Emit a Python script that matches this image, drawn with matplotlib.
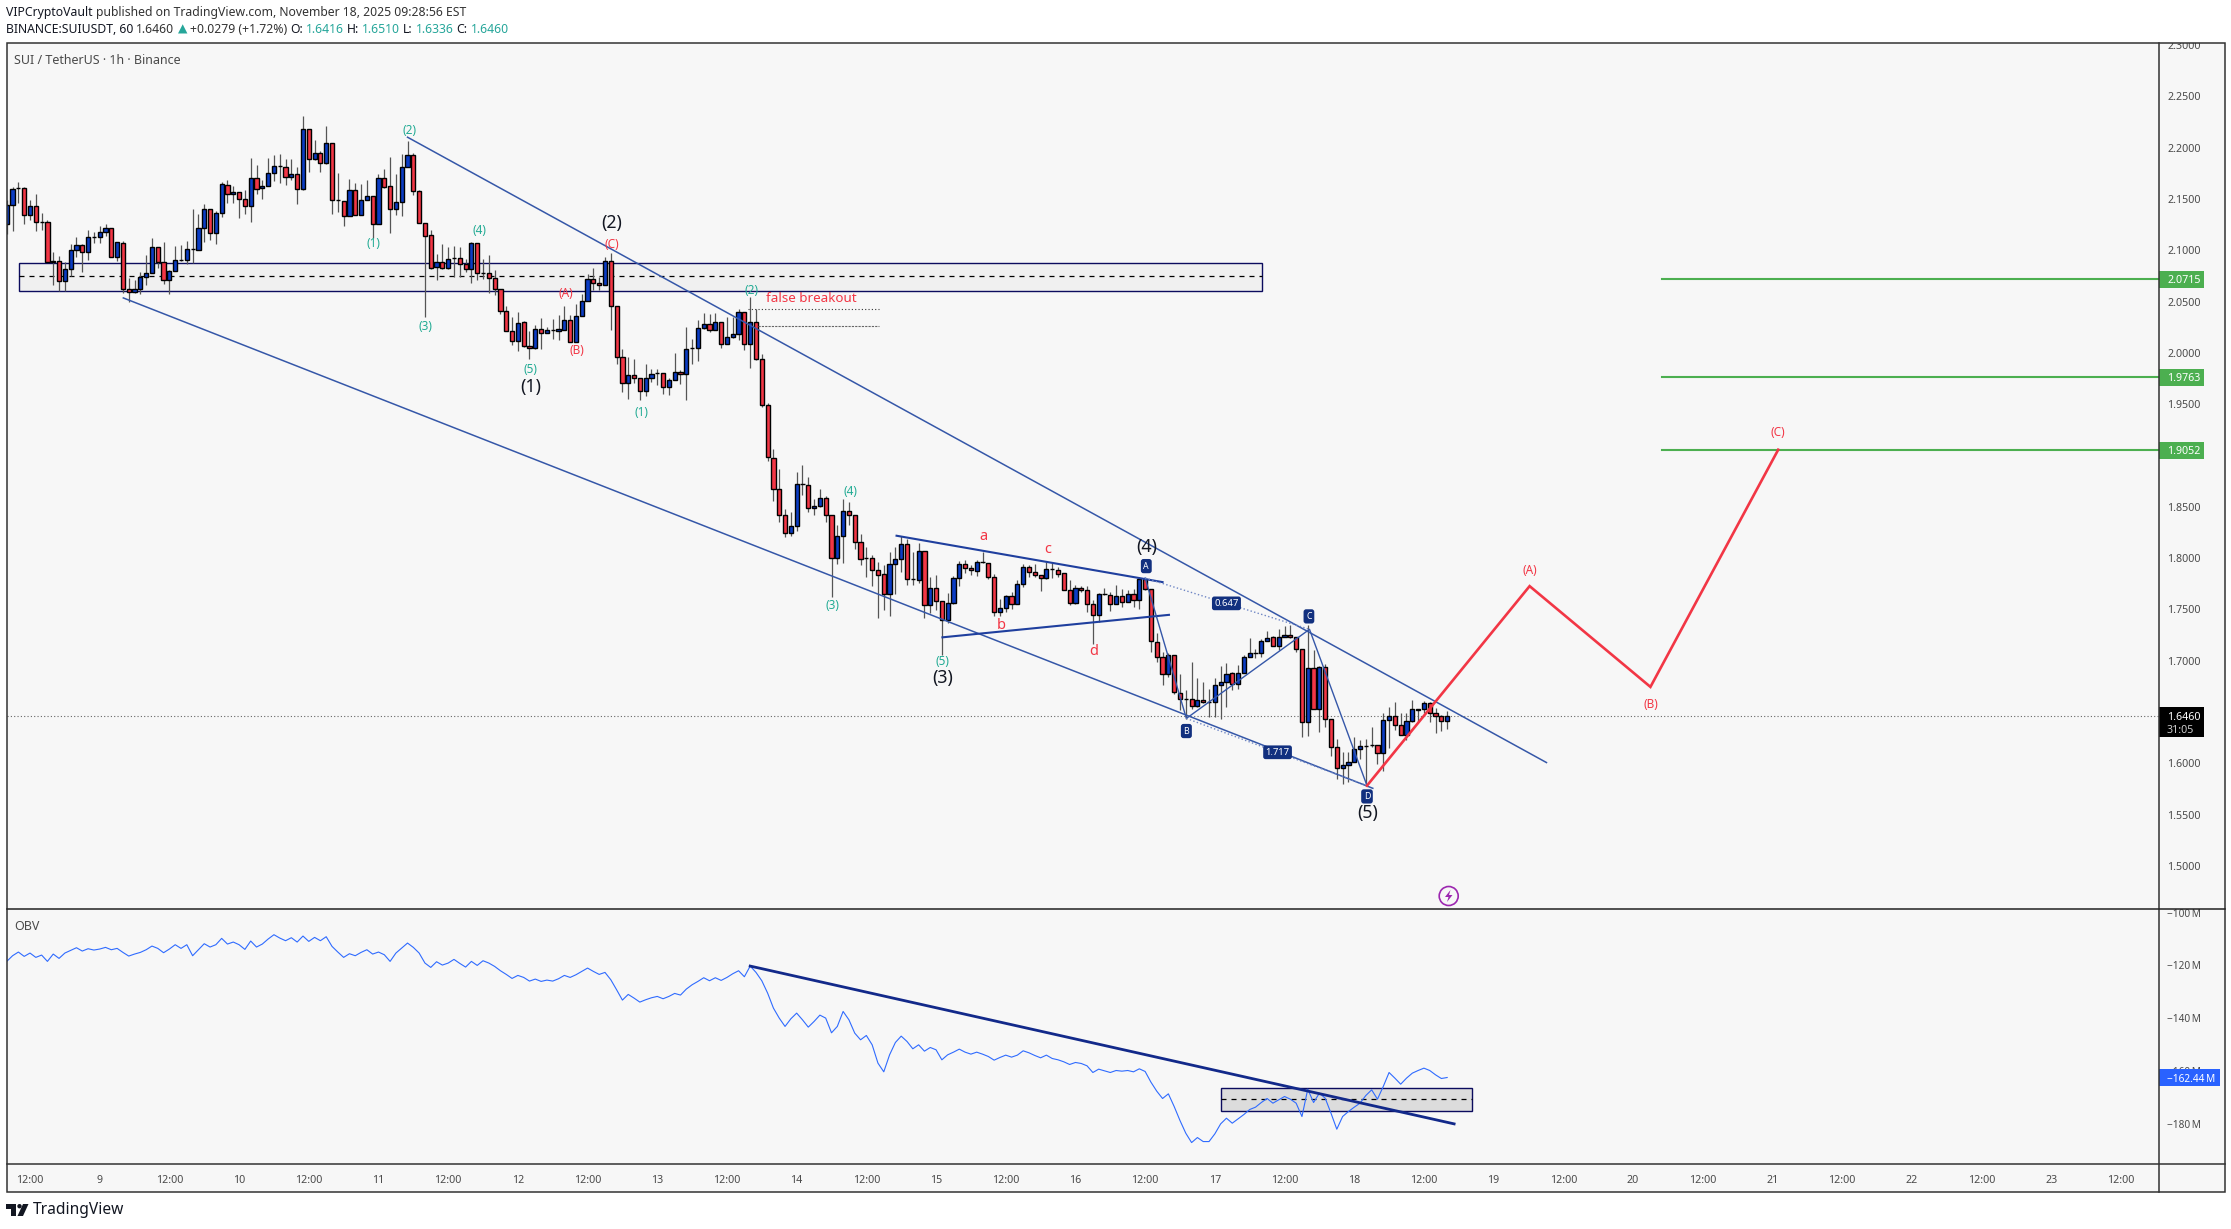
import matplotlib
matplotlib.use('Agg')
import matplotlib.pyplot as plt
from matplotlib.patches import Rectangle, Polygon, Circle
import numpy as np

# SUI/USDT 1h candles, hours counted from Nov 8 12:00, first candle at hour -4
opens = [
    2.1252, 2.1444, 2.1608, 2.1610, 2.1347, 2.1434, 2.1278, 2.1278, 2.0889, 2.0895,
    2.0703, 2.0817, 2.1006, 2.1054, 2.0986, 2.1130, 2.1132, 2.1181, 2.1220, 2.0937,
    2.1074, 2.0625, 2.0596, 2.0625, 2.0739, 2.0781, 2.1032, 2.0885, 2.0713, 2.0801,
    2.0903, 2.0902, 2.1010, 2.1006, 2.1220, 2.1402, 2.1171, 2.1366, 2.1639, 2.1552,
    2.1571, 2.1503, 2.1434, 2.1708, 2.1610, 2.1630, 2.1756, 2.1823, 2.1815, 2.1717,
    2.1747, 2.1600, 2.2185, 2.1893, 2.1951, 2.1854, 2.2049, 2.1491, 2.1483, 2.1337,
    2.1591, 2.1347, 2.1493, 2.1532, 2.1259, 2.1708, 2.1623, 2.1399, 2.1470, 2.1812,
    2.1925, 2.1581, 2.1269, 2.1152, 2.0837, 2.0889, 2.0827, 2.0926, 2.0928, 2.0869,
    2.0820, 2.1074, 2.0776, 2.0778, 2.0732, 2.0625, 2.0411, 2.0216, 2.0115, 2.0304,
    2.0070, 2.0047, 2.0232, 2.0196, 2.0224, 2.0216, 2.0226, 2.0323, 2.0108, 2.0362,
    2.0508, 2.0723, 2.0684, 2.0664, 2.0898, 2.0460, 1.9962, 1.9706, 1.9787, 1.9757,
    1.9631, 1.9754, 1.9804, 1.9806, 1.9670, 1.9738, 1.9816, 1.9793, 2.0048, 2.0050,
    2.0245, 2.0284, 2.0226, 2.0304, 2.0089, 2.0154, 2.0187, 2.0401, 2.0083, 2.0300,
    1.9944, 1.9495, 1.8979, 1.8676, 1.8423, 1.8247, 1.8316, 1.8723, 1.8715, 1.8488,
    1.8511, 1.8589, 1.8423, 1.8004, 1.8218, 1.8462, 1.8423, 1.8156, 1.8002, 1.8000,
    1.7880, 1.7848, 1.7653, 1.7945, 1.7994, 1.8140, 1.7797, 1.7789, 1.8072, 1.7545,
    1.7711, 1.7581, 1.7399, 1.7562, 1.7809, 1.7942, 1.7906, 1.7877, 1.7959, 1.7955,
    1.7815, 1.7474, 1.7516, 1.7627, 1.7552, 1.7750, 1.7916, 1.7864, 1.7838, 1.7809,
    1.7891, 1.7887, 1.7854, 1.7692, 1.7565, 1.7711, 1.7692, 1.7555, 1.7448, 1.7647,
    1.7643, 1.7555, 1.7633, 1.7575, 1.7653, 1.7594, 1.7799, 1.7701, 1.7184, 1.7032,
    1.6866, 1.7051, 1.6687, 1.6630, 1.6632, 1.6560, 1.6622, 1.6597, 1.6599, 1.6762,
    1.6788, 1.6876, 1.6778, 1.6885, 1.7038, 1.7078, 1.7080, 1.7197, 1.7227, 1.7145,
    1.7233, 1.7252, 1.7227, 1.7110, 1.6404, 1.6934, 1.6534, 1.6941, 1.6437, 1.6161,
    1.5959, 1.5988, 1.6018, 1.6141, 1.6172, 1.6181, 1.6183, 1.6105, 1.6427, 1.6466,
    1.6378, 1.6281, 1.6417, 1.6523, 1.6525, 1.6593, 1.6495, 1.6463, 1.6416,
]
highs = [
    2.1493, 2.1617, 2.1665, 2.1612, 2.1493, 2.1545, 2.1366, 2.1291, 2.0983, 2.0940,
    2.0885, 2.1057, 2.1129, 2.1057, 2.1194, 2.1178, 2.1233, 2.1253, 2.1220, 2.1083,
    2.1087, 2.0729, 2.0706, 2.0788, 2.0950, 2.1123, 2.1032, 2.1080, 2.0811, 2.1038,
    2.1054, 2.1087, 2.1399, 2.1357, 2.1447, 2.1402, 2.1379, 2.1665, 2.1682, 2.1623,
    2.1571, 2.1591, 2.1896, 2.1828, 2.1682, 2.1902, 2.1925, 2.1942, 2.1893, 2.1890,
    2.1812, 2.2306, 2.2185, 2.2072, 2.1968, 2.2208, 2.2049, 2.1753, 2.1483, 2.1691,
    2.1656, 2.1649, 2.1688, 2.1532, 2.1740, 2.1795, 2.1909, 2.1747, 2.1942, 2.2062,
    2.1951, 2.1591, 2.1269, 2.1194, 2.0967, 2.1064, 2.1032, 2.1038, 2.1032, 2.0918,
    2.1080, 2.1074, 2.0918, 2.0950, 2.0804, 2.0625, 2.0453, 2.0349, 2.0398, 2.0310,
    2.0209, 2.0268, 2.0339, 2.0252, 2.0333, 2.0365, 2.0453, 2.0365, 2.0479, 2.0577,
    2.0771, 2.0830, 2.0739, 2.0934, 2.0976, 2.0460, 2.0040, 1.9959, 1.9943, 1.9757,
    1.9887, 1.9845, 1.9839, 1.9806, 1.9757, 1.9998, 1.9836, 2.0252, 2.0138, 2.0317,
    2.0388, 2.0382, 2.0388, 2.0304, 2.0349, 2.0349, 2.0430, 2.0401, 2.0544, 2.0424,
    1.9986, 1.9512, 1.9066, 1.8865, 1.8475, 1.8449, 1.8836, 1.8904, 1.8790, 1.8579,
    1.8670, 1.8602, 1.8423, 1.8319, 1.8579, 1.8546, 1.8423, 1.8238, 1.8108, 1.8026,
    1.7961, 1.7929, 1.8059, 1.8108, 1.8215, 1.8189, 1.8059, 1.8147, 1.8072, 1.7815,
    1.7831, 1.7581, 1.7659, 1.7822, 1.7971, 1.7978, 1.7929, 1.7978, 1.8059, 1.7955,
    1.7841, 1.7604, 1.7636, 1.7669, 1.7783, 1.7939, 1.7929, 1.7945, 1.7838, 1.7961,
    1.7952, 1.7913, 1.7854, 1.7789, 1.7734, 1.7724, 1.7724, 1.7594, 1.7659, 1.7711,
    1.7669, 1.7740, 1.7701, 1.7685, 1.7701, 1.7815, 1.7799, 1.7701, 1.7266, 1.7087,
    1.7077, 1.7051, 1.6869, 1.6713, 1.6989, 1.6827, 1.6794, 1.6729, 1.6827, 1.6947,
    1.6979, 1.6892, 1.6957, 1.7054, 1.7217, 1.7119, 1.7207, 1.7288, 1.7240, 1.7305,
    1.7337, 1.7347, 1.7227, 1.7119, 1.7347, 1.7103, 1.6947, 1.6973, 1.6437, 1.6242,
    1.6112, 1.6112, 1.6258, 1.6226, 1.6242, 1.6356, 1.6183, 1.6486, 1.6551, 1.6596,
    1.6486, 1.6486, 1.6622, 1.6534, 1.6606, 1.6599, 1.6544, 1.6469, 1.6510,
]
lows = [
    2.1162, 2.1187, 2.1461, 2.1259, 2.1298, 2.1187, 2.1194, 2.0885, 2.0658, 2.0602,
    2.0602, 2.0745, 2.0934, 2.0788, 2.0908, 2.1070, 2.1070, 2.1136, 2.0934, 2.0895,
    2.0586, 2.0495, 2.0586, 2.0577, 2.0658, 2.0778, 2.0830, 2.0668, 2.0577, 2.0801,
    2.0895, 2.0869, 2.0876, 2.1006, 2.1080, 2.1103, 2.1057, 2.1324, 2.1461, 2.1461,
    2.1314, 2.1350, 2.1275, 2.1552, 2.1500, 2.1630, 2.1675, 2.1659, 2.1633, 2.1682,
    2.1447, 2.1590, 2.1763, 2.1883, 2.1763, 2.1844, 2.1357, 2.1373, 2.1233, 2.1330,
    2.1347, 2.1340, 2.1490, 2.1122, 2.1253, 2.1610, 2.1168, 2.1340, 2.1334, 2.1812,
    2.1535, 2.1269, 2.0349, 2.0820, 2.0706, 2.0820, 2.0820, 2.0739, 2.0739, 2.0788,
    2.0681, 2.0713, 2.0723, 2.0583, 2.0560, 2.0375, 2.0212, 2.0073, 2.0018, 2.0057,
    1.9940, 2.0040, 2.0037, 2.0193, 2.0131, 2.0128, 2.0219, 2.0102, 2.0102, 2.0355,
    2.0505, 2.0609, 2.0609, 2.0658, 2.0219, 1.9887, 1.9618, 1.9553, 1.9706, 1.9537,
    1.9576, 1.9715, 1.9683, 1.9602, 1.9585, 1.9732, 1.9699, 1.9537, 1.9894, 1.9920,
    2.0235, 2.0203, 2.0219, 2.0044, 2.0083, 2.0148, 2.0122, 2.0024, 1.9855, 1.9933,
    1.9473, 1.8946, 1.8556, 1.8348, 1.8205, 1.8212, 1.8264, 1.8611, 1.8449, 1.8416,
    1.8498, 1.8351, 1.7620, 1.7939, 1.7952, 1.8319, 1.8091, 1.7929, 1.7815, 1.7724,
    1.7415, 1.7490, 1.7435, 1.7646, 1.7861, 1.7734, 1.7734, 1.7757, 1.7415, 1.7464,
    1.7490, 1.7051, 1.7367, 1.7555, 1.7724, 1.7854, 1.7831, 1.7822, 1.7952, 1.7799,
    1.7432, 1.7432, 1.7474, 1.7506, 1.7549, 1.7718, 1.7815, 1.7815, 1.7679, 1.7799,
    1.7809, 1.7815, 1.7685, 1.7539, 1.7555, 1.7669, 1.7474, 1.7165, 1.7376, 1.7636,
    1.7484, 1.7549, 1.7523, 1.7571, 1.7523, 1.7506, 1.7685, 1.7084, 1.6989, 1.6762,
    1.6837, 1.6674, 1.6518, 1.6437, 1.6534, 1.6550, 1.6590, 1.6453, 1.6453, 1.6437,
    1.6550, 1.6713, 1.6729, 1.6876, 1.7038, 1.7022, 1.7032, 1.7194, 1.7142, 1.7103,
    1.7227, 1.7217, 1.7087, 1.6258, 1.6265, 1.6525, 1.6307, 1.6356, 1.6073, 1.5852,
    1.5803, 1.5819, 1.6014, 1.6047, 1.5787, 1.6161, 1.5998, 1.5927, 1.6154, 1.6323,
    1.6274, 1.6226, 1.6404, 1.6404, 1.6486, 1.6404, 1.6297, 1.6317, 1.6336,
]
closes = [
    2.1444, 2.1600, 2.1610, 2.1347, 2.1434, 2.1278, 2.1276, 2.0885, 2.0892, 2.0703,
    2.0817, 2.1006, 2.1054, 2.0986, 2.1129, 2.1132, 2.1181, 2.1220, 2.0937, 2.1083,
    2.0625, 2.0596, 2.0622, 2.0739, 2.0781, 2.1032, 2.0882, 2.0713, 2.0801, 2.0902,
    2.0905, 2.1015, 2.1012, 2.1220, 2.1402, 2.1171, 2.1366, 2.1649, 2.1552, 2.1571,
    2.1503, 2.1434, 2.1708, 2.1600, 2.1630, 2.1756, 2.1825, 2.1821, 2.1717, 2.1747,
    2.1600, 2.2185, 2.1893, 2.1951, 2.1854, 2.2049, 2.1493, 2.1493, 2.1337, 2.1591,
    2.1347, 2.1493, 2.1532, 2.1259, 2.1708, 2.1620, 2.1399, 2.1470, 2.1812, 2.1925,
    2.1581, 2.1269, 2.1139, 2.0830, 2.0889, 2.0827, 2.0918, 2.0928, 2.0866, 2.0820,
    2.1074, 2.0778, 2.0778, 2.0732, 2.0625, 2.0411, 2.0216, 2.0115, 2.0294, 2.0066,
    2.0047, 2.0235, 2.0196, 2.0226, 2.0226, 2.0229, 2.0323, 2.0108, 2.0362, 2.0508,
    2.0723, 2.0684, 2.0664, 2.0898, 2.0460, 1.9962, 1.9706, 1.9787, 1.9757, 1.9631,
    1.9757, 1.9797, 1.9806, 1.9670, 1.9738, 1.9816, 1.9793, 2.0040, 2.0050, 2.0245,
    2.0284, 2.0226, 2.0304, 2.0089, 2.0154, 2.0187, 2.0401, 2.0083, 2.0300, 1.9943,
    1.9495, 1.8985, 1.8673, 1.8423, 1.8247, 1.8316, 1.8725, 1.8725, 1.8491, 1.8511,
    1.8589, 1.8423, 1.8004, 1.8218, 1.8462, 1.8423, 1.8156, 1.7994, 1.8004, 1.7887,
    1.7838, 1.7653, 1.7945, 1.7994, 1.8140, 1.7799, 1.7799, 1.8072, 1.7545, 1.7711,
    1.7581, 1.7399, 1.7562, 1.7809, 1.7945, 1.7906, 1.7880, 1.7965, 1.7961, 1.7815,
    1.7474, 1.7516, 1.7627, 1.7552, 1.7750, 1.7916, 1.7864, 1.7838, 1.7809, 1.7896,
    1.7893, 1.7844, 1.7692, 1.7565, 1.7711, 1.7688, 1.7555, 1.7448, 1.7653, 1.7649,
    1.7555, 1.7633, 1.7575, 1.7653, 1.7594, 1.7799, 1.7701, 1.7188, 1.7032, 1.6866,
    1.7051, 1.6700, 1.6632, 1.6632, 1.6560, 1.6622, 1.6599, 1.6599, 1.6762, 1.6788,
    1.6866, 1.6778, 1.6885, 1.7038, 1.7080, 1.7080, 1.7197, 1.7223, 1.7145, 1.7233,
    1.7252, 1.7227, 1.7110, 1.6404, 1.6934, 1.6534, 1.6941, 1.6437, 1.6161, 1.5959,
    1.5988, 1.6018, 1.6141, 1.6174, 1.6174, 1.6183, 1.6105, 1.6427, 1.6466, 1.6378,
    1.6281, 1.6417, 1.6525, 1.6525, 1.6593, 1.6495, 1.6463, 1.6408, 1.6460,
]

# OBV in millions, one value per hour, first value at hour -4
obv = [
    -118.45, -116.30, -114.91, -116.55, -115.29, -116.93, -116.05, -118.45, -115.67, -117.31,
    -115.29, -114.28, -113.27, -114.53, -113.65, -114.15, -113.77, -113.14, -114.03, -113.52,
    -115.04, -116.43, -115.67, -115.04, -114.03, -112.64, -113.52, -115.16, -113.77, -112.13,
    -113.52, -112.13, -116.30, -114.03, -111.75, -113.01, -112.13, -109.73, -111.88, -111.12,
    -112.13, -113.90, -110.74, -113.01, -111.88, -109.98, -108.34, -109.60, -110.61, -109.48,
    -111.12, -108.85, -110.87, -109.35, -110.61, -109.10, -112.76, -114.91, -116.93, -115.54,
    -116.30, -115.04, -114.03, -115.67, -114.91, -115.92, -118.45, -115.29, -113.40, -111.50,
    -113.14, -115.29, -119.08, -120.73, -118.58, -119.84, -119.08, -117.69, -119.21, -120.60,
    -118.45, -119.97, -118.20, -119.08, -120.35, -121.99, -123.38, -124.90, -123.76, -124.52,
    -125.91, -125.15, -126.03, -125.53, -125.91, -125.02, -123.76, -124.52, -123.51, -122.24,
    -120.98, -122.24, -123.38, -122.62, -125.40, -129.19, -133.11, -130.96, -132.35, -133.87,
    -132.98, -132.23, -131.72, -132.60, -131.72, -130.58, -131.21, -128.94, -127.30, -126.03,
    -124.64, -125.78, -124.64, -125.65, -124.52, -123.13, -121.99, -124.26, -120.22,
    -122.62, -125.78, -130.46, -136.14, -139.93, -143.09, -140.19, -138.04, -140.57, -143.35,
    -141.20, -138.80, -139.93, -145.50, -143.09, -137.41, -140.57, -145.62, -148.15, -146.51,
    -150.05, -157.00, -160.28, -153.84, -149.16, -146.76, -148.78, -151.56, -150.05, -152.45,
    -151.06, -151.94, -155.73, -153.84, -152.83, -151.69, -152.83, -153.58, -152.83, -153.58,
    -154.47, -155.86, -154.85, -153.96, -154.72, -153.96, -152.32, -153.08, -154.09, -154.97,
    -153.96, -155.23, -155.73, -156.49, -157.50, -156.74, -157.12, -158.01, -160.54, -159.27,
    -159.90, -160.54, -159.78, -160.03, -159.78, -160.28, -159.14, -160.15, -164.20, -167.61,
    -170.39, -168.62, -173.43, -178.73, -183.54, -187.08, -185.18, -186.70, -186.70, -183.79,
    -180.00, -177.85, -179.74, -178.10, -176.46, -174.56, -173.68, -171.91, -170.39, -172.16,
    -170.90, -169.63, -170.64, -172.16, -177.22, -166.85, -171.91, -168.37, -170.27, -175.95,
    -182.02, -177.22, -175.32, -173.68, -172.16, -169.25, -167.11, -170.64, -165.84, -160.54,
    -162.68, -164.96, -162.68, -160.79, -159.78, -158.89, -159.78, -161.42, -162.81, -162.44,
]

price_ticks = [1.5, 1.55, 1.6, 1.7, 1.75, 1.8, 1.85, 1.9, 1.95, 2.0, 2.05, 2.1, 2.15, 2.2, 2.25, 2.3]
obv_ticks = [-100, -120, -140, -160, -180]
target_levels = [2.0715, 1.9763, 1.9052]
last_price = 1.6460
last_obv = -162.44

# time axis labels, every 12 hours from hour 0
day_names = ['9', '10', '11', '12', '13', '14', '15', '16', '17', '18', '19', '20', '21', '22', '23']

# drawings, as (hour, price)
upper_channel = ([65.0, 261.1], [2.2101, 1.6008])
lower_channel = ([16.07, 231.2], [2.0535, 1.5757])
triangle_top = ([149.2, 195.0], [1.8218, 1.7766])
triangle_bottom = ([157.1, 196.1], [1.7228, 1.7447])
abcd_hours = [192.0, 199.1, 220.3, 230.2]
abcd_prices = [1.7806, 1.6438, 1.7306, 1.5783]
forecast_hours = [230.2, 258.2, 279.0, 301.0]
forecast_prices = [1.5783, 1.7727, 1.6745, 1.9056]
zone_hours = [-1.84, 212.1]
zone_prices = [2.0607, 2.0744, 2.0880]
obv_zone_hours = [205.1, 248.2]
obv_zone_values = [-174.94, -170.64, -166.5]
obv_trend = ([124.0, 245.2], [-120.22, -180.0])

green_labels = [('(2)', 65.3, 2.2169), ('(1)', 59.2, 2.1061), ('(4)', 77.3, 2.1188), ('(3)', 68.1, 2.0253),
                ('(5)', 86.2, 1.9838), ('(2)', 124.3, 2.0604), ('(4)', 141.3, 1.8646), ('(3)', 138.2, 1.7539),
                ('(5)', 157.1, 1.6994), ('(1)', 105.2, 1.9422)]
red_small = [('(A)', 92.2, 2.0574), ('(B)', 94.1, 2.0023), ('(C)', 100.2, 2.1056),
             ('(A)', 258.2, 1.7876), ('(B)', 279.0, 1.6575), ('(C)', 301.0, 1.9222)]
red_letters = [('a', 164.1, 1.8214), ('b', 167.2, 1.7345), ('c', 175.2, 1.8085), ('d', 183.2, 1.7091)]
black_labels = [('(1)', 86.2, 1.9669), ('(2)', 100.2, 2.1266), ('(3)', 157.1, 1.6828),
                ('(4)', 192.3, 1.8104), ('(5)', 230.3, 1.5514)]
pattern_labels = [('A', 192.2, 1.7922), ('B', 199.1, 1.6315), ('C', 220.2, 1.7432), ('D', 230.2, 1.5678)]
ratio_labels = [('0.647', 206.0, 1.7559), ('1.717', 214.8, 1.6108)]

W, H = 2231, 1229
LEFT, RIGHT, SCALE_RIGHT = 6.5, 2158.5, 2224.7
TOP, MID, BOTTOM, TIME_BOTTOM = 43.3, 909.0, 1164.0, 1192.0
PANE = '#f7f7f7'
BLUE = '#0b3cc4'
RED = '#f23645'
GREEN = '#22ab94'
LINE = '#3557a8'
NAVY = '#12298a'
GREY = '#4a4a4a'

plt.rcParams['font.family'] = ['Noto Sans', 'DejaVu Sans']


def pane_axes(x0, y0, x1, y1):
    ax = fig.add_axes([x0 / W, 1 - y1 / H, (x1 - x0) / W, (y1 - y0) / H])
    ax.set_facecolor(PANE)
    ax.set_xticks([])
    ax.set_yticks([])
    for s in ax.spines.values():
        s.set_visible(False)
    return ax


def run_of_text(x, y, parts):
    # text pieces in a row, each starting where the previous one ended
    for text, color, weight in parts:
        t = chrome.text(x, y, text, color=color, fontweight=weight, fontsize=8.8, va='center', ha='left')
        box = t.get_window_extent(fig.canvas.get_renderer())
        x += box.width + 3


fig = plt.figure(figsize=(W / 100, H / 100), dpi=100, facecolor='white')

ax = pane_axes(LEFT, TOP, RIGHT, MID)
ax_obv = pane_axes(LEFT, MID, RIGHT, BOTTOM)
ax_time = pane_axes(LEFT, BOTTOM, RIGHT, TIME_BOTTOM)
scale = pane_axes(RIGHT, TOP, SCALE_RIGHT, MID)
scale_obv = pane_axes(RIGHT, MID, SCALE_RIGHT, BOTTOM)
corner = pane_axes(RIGHT, BOTTOM, SCALE_RIGHT, TIME_BOTTOM)

hour_min, hour_max = (LEFT - 30) / 5.808, (RIGHT - 30) / 5.808
price_lim = (1.4581, 2.3016)
obv_lim = (-195.2, -98.6)
for a in (ax, ax_obv, ax_time):
    a.set_xlim(hour_min, hour_max)
ax.set_ylim(*price_lim)
ax_obv.set_ylim(*obv_lim)
ax_time.set_ylim(0, 1)
scale.set_xlim(RIGHT, SCALE_RIGHT)
scale.set_ylim(*price_lim)
scale_obv.set_xlim(RIGHT, SCALE_RIGHT)
scale_obv.set_ylim(*obv_lim)

# candles
hours = np.arange(-4, -4 + len(opens))
opens_a, closes_a = np.array(opens), np.array(closes)
is_up = closes_a >= opens_a
colors = [BLUE if u else RED for u in is_up]
ax.vlines(hours, lows, highs, color='#555555', lw=0.9, zorder=3)
ax.bar(hours, np.abs(closes_a - opens_a), bottom=np.minimum(opens_a, closes_a), width=0.72,
       color=colors, edgecolor='black', linewidth=1.0, zorder=4)

# supply zone
ax.add_patch(Rectangle((zone_hours[0], zone_prices[0]), zone_hours[1] - zone_hours[0], zone_prices[2] - zone_prices[0],
                       facecolor='#f0f0f0', edgecolor='#0c0c5e', lw=1.0, zorder=1))
ax.plot(zone_hours, [zone_prices[1]] * 2, color='black', lw=0.9, ls=(0, (4, 4)), zorder=2)

# channel and triangle
ax.plot(*upper_channel, color=LINE, lw=1.1, zorder=5)
ax.plot(*lower_channel, color=LINE, lw=1.1, zorder=5)
ax.plot(*triangle_top, color='#1f3f9e', lw=1.5, zorder=5)
ax.plot(*triangle_bottom, color='#1f3f9e', lw=1.5, zorder=5)

# ABCD pattern
ax.plot(abcd_hours, abcd_prices, color=LINE, lw=1.0, zorder=5)
ax.plot([abcd_hours[0], abcd_hours[2]], [abcd_prices[0], abcd_prices[2]], color='#6f86c4', lw=1.0, ls=':', zorder=5)
ax.plot([abcd_hours[1], abcd_hours[3]], [abcd_prices[1], abcd_prices[3]], color='#6f86c4', lw=1.0, ls=':', zorder=5)
for text, x, y in pattern_labels:
    ax.text(x, y, text, color='white', fontsize=6.3, fontweight='bold', ha='center', va='center', zorder=7,
            bbox=dict(boxstyle='round,pad=0.3', fc='#12307f', ec='none'))
for text, x, y in ratio_labels:
    ax.text(x, y, text, color='white', fontsize=6.8, fontweight='bold', ha='center', va='center', zorder=7,
            bbox=dict(boxstyle='round,pad=0.25', fc='#12307f', ec='none'))

# forecast path
ax.plot(forecast_hours, forecast_prices, color=RED, lw=1.9, zorder=6, solid_joinstyle='miter')

# targets and last price
for level in target_levels:
    ax.plot([281.0, hour_max], [level, level], color='#4caf50', lw=1.5, zorder=5)
ax.axhline(last_price, color='#666666', lw=0.8, ls=(0, (1, 2)), zorder=2)

# false breakout
ax.plot([123.7, 146.1], [2.0423, 2.0423], color='#333333', lw=0.8, ls=(0, (1, 2)), zorder=5)
ax.plot([125.4, 146.1], [2.0260, 2.0260], color='#666666', lw=0.8, ls=(0, (2, 1)), zorder=5)
ax.text(134.6, 2.0531, 'false breakout', color=RED, fontsize=9.7, ha='center', va='center', zorder=7)

# wave labels
for text, x, y in green_labels:
    ax.text(x, y, text, color=GREEN, fontsize=8.5, ha='center', va='center', zorder=7)
for text, x, y in red_small:
    ax.text(x, y, text, color=RED, fontsize=8.5, ha='center', va='center', zorder=7)
for text, x, y in red_letters:
    ax.text(x, y, text, color=RED, fontsize=10.5, ha='center', va='center', zorder=7)
for text, x, y in black_labels:
    ax.text(x, y, text, color='#131722', fontsize=12.8, ha='center', va='center', zorder=7)

# price scale
scale_x = RIGHT + 8.5
for p in price_ticks:
    scale.text(scale_x, p, '%.4f' % p, color=GREY, fontsize=7.7, va='center_baseline', ha='left', clip_on=True)
for level in target_levels:
    scale.add_patch(Rectangle((RIGHT, level - 0.0083), 45.2, 0.0166, fc='#4caf50', ec='none', zorder=3))
    scale.text(scale_x, level, '%.4f' % level, color='white', fontsize=7.7, fontweight='bold',
               va='center_baseline', ha='left', zorder=4)
scale.add_patch(Rectangle((RIGHT, last_price - 0.0205), 45.2, 0.0292, fc='black', ec='none', zorder=3))
scale.text(scale_x, last_price, '%.4f' % last_price, color='white', fontsize=7.7, fontweight='bold',
           va='center_baseline', ha='left', zorder=4)
scale.text(scale_x, last_price - 0.0128, '31:05', color='#cccccc', fontsize=7.7, va='center_baseline', ha='left', zorder=4)

# OBV pane
ax_obv.plot(np.arange(-4, -4 + len(obv)), obv, color='#2f6bff', lw=0.8, zorder=4)
ax_obv.add_patch(Rectangle((obv_zone_hours[0], obv_zone_values[0]), obv_zone_hours[1] - obv_zone_hours[0],
                           obv_zone_values[2] - obv_zone_values[0],
                           facecolor='#dcdcdc', edgecolor='#0c0c5e', lw=1.0, zorder=1))
ax_obv.plot(obv_zone_hours, [obv_zone_values[1]] * 2, color='black', lw=0.9, ls=(0, (4, 4)), zorder=2)
ax_obv.plot(*obv_trend, color=NAVY, lw=2.0, zorder=5)

for v in obv_ticks:
    scale_obv.text(scale_x, v, '\u2212%d\u2009M' % abs(v), color=GREY, fontsize=7.3, va='center_baseline', ha='left', clip_on=True)
scale_obv.add_patch(Rectangle((RIGHT, last_obv - 3.2), 61.5, 6.4, fc='#2962ff', ec='none', zorder=3))
scale_obv.text(scale_x, last_obv, '\u2212162.44\u2009M', color='white', fontsize=7.3, fontweight='bold',
               va='center_baseline', ha='left', zorder=4)

# time axis
label_hours = [h for h in range(0, 361, 12)]
for i, h in enumerate(label_hours):
    label = '12:00' if i % 2 == 0 else day_names[i // 2]
    ax_time.text(h, 0.46, label, color=GREY, fontsize=7.7, ha='center', va='center_baseline')

# chrome drawn in pixel space: frames, header, logo
chrome = fig.add_axes([0, 0, 1, 1], facecolor='none')
chrome.set_xlim(0, W)
chrome.set_ylim(H, 0)
chrome.axis('off')
chrome.add_patch(Rectangle((LEFT, TOP), SCALE_RIGHT - LEFT, TIME_BOTTOM - TOP, fill=False, ec='#333333', lw=1.1))
chrome.plot([RIGHT, RIGHT], [TOP, TIME_BOTTOM], color='#333333', lw=1.1)
chrome.plot([LEFT, SCALE_RIGHT], [MID, MID], color='#222222', lw=1.1)
chrome.plot([LEFT, SCALE_RIGHT], [BOTTOM, BOTTOM], color='#333333', lw=1.1)

chrome.text(14.5, 60.5, 'SUI / TetherUS \u00b7 1h \u00b7 Binance', color=GREY, fontsize=9, va='center')
chrome.text(14.5, 926.5, 'OBV', color=GREY, fontsize=9, va='center')

teal = '#26a69a'
run_of_text(6, 12.5, [('VIPCryptoVault', '#131722', 'bold'),
                      ('published on TradingView.com, November 18, 2025 09:28:56 EST', '#333333', 'normal')])
run_of_text(6, 29.5, [('BINANCE:SUIUSDT, 60', '#131722', 'bold'), ('1.6460', '#333333', 'normal'),
                      ('\u25b2', teal, 'normal'), ('+0.0279 (+1.72%)', '#333333', 'normal'),
                      ('O:', '#131722', 'bold'), ('1.6416', teal, 'normal'),
                      ('H:', '#131722', 'bold'), ('1.6510', teal, 'normal'),
                      ('L:', '#131722', 'bold'), ('1.6336', teal, 'normal'),
                      ('C:', '#131722', 'bold'), ('1.6460', teal, 'normal')])

# purple flash marker
chrome.add_patch(Circle((1448.7, 896), 9.5, fill=False, ec='#9c27b0', lw=1.2))
chrome.add_patch(Polygon([[1450.5, 890], [1445, 897], [1448.5, 897], [1447, 902], [1452.5, 895], [1449, 895]],
                         fc='#9c27b0', ec='none'))

# TradingView logo
chrome.add_patch(Polygon([[6, 1204], [16, 1204], [16, 1216], [11, 1216], [11, 1208.5], [6, 1208.5]], fc='#131722', ec='none'))
chrome.add_patch(Circle((19.5, 1206.2), 2.2, fc='#131722', ec='none'))
chrome.add_patch(Polygon([[23, 1204], [28.5, 1204], [23, 1216], [17.5, 1216]], fc='#131722', ec='none'))
chrome.text(33, 1210, 'TradingView', color='#131722', fontsize=11.2, fontweight='semibold', va='center', ha='left')

fig.savefig('out.png', dpi=100, facecolor='white')
